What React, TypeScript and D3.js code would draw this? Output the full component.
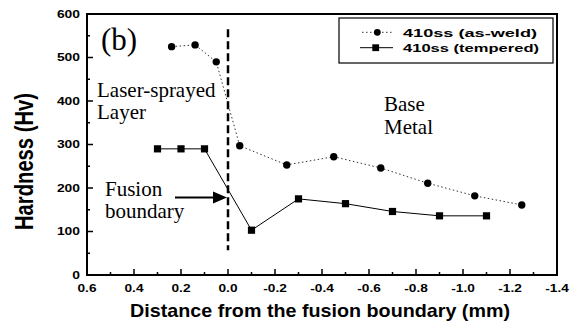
import React from "react";
import * as d3 from "d3";

const asWeldX = [0.24, 0.14, 0.05, -0.05, -0.25, -0.45, -0.65, -0.85, -1.05, -1.25];
const asWeldY = [525, 529, 490, 297, 253, 272, 246, 211, 182, 161];
const temperedX = [0.3, 0.2, 0.1, -0.1, -0.3, -0.5, -0.7, -0.9, -1.1];
const temperedY = [290, 290, 290, 103, 175, 164, 146, 136, 136];
const xTicks = [0.6, 0.4, 0.2, 0.0, -0.2, -0.4, -0.6, -0.8, -1.0, -1.2, -1.4];
const yTicks = [0, 100, 200, 300, 400, 500, 600];
const legendLabels = ["410ss (as-weld)", "410ss (tempered)"];

const W = 570, H = 328;
const L = 87, R = 557, T = 14, B = 275;

export default function App() {
  const x = d3.scaleLinear().domain([0.6, -1.4]).range([L, R]);
  const y = d3.scaleLinear().domain([0, 600]).range([B, T]);
  const line = d3.line<[number, number]>().x(d => x(d[0])).y(d => y(d[1]));
  const aw: [number, number][] = asWeldX.map((v, i) => [v, asWeldY[i]]);
  const tp: [number, number][] = temperedX.map((v, i) => [v, temperedY[i]]);
  const xMinor = d3.range(6, -15, -1).map(v => v / 10);
  const yMinor = d3.range(0, 601, 50);
  const sans = "'Liberation Sans', Arial, sans-serif";
  const serif = "'Liberation Serif', 'Times New Roman', serif";
  return (
    <svg width={W} height={H} style={{ position: "absolute", left: 0, top: 0, background: "#fff" }}>
      <rect x={0} y={0} width={W} height={H} fill="#fff" />
      {xMinor.map((v, i) => (
        <line key={"xm" + i} x1={x(v)} x2={x(v)} y1={B} y2={B - (i % 2 === 0 ? 6 : 3)} stroke="#000" strokeWidth={1.5} />
      ))}
      {yMinor.map((v, i) => (
        <line key={"ym" + i} x1={L} x2={L + (i % 2 === 0 ? 6 : 3)} y1={y(v)} y2={y(v)} stroke="#000" strokeWidth={1.5} />
      ))}
      <rect x={L} y={T} width={R - L} height={B - T} fill="none" stroke="#000" strokeWidth={2} />
      {xTicks.map((v, i) => (
        <g key={"xt" + i} transform={`translate(${x(v)},291.5) scale(1.28,1)`}>
          <text x={0} y={0} textAnchor="middle" fontFamily={sans} fontWeight="bold" fontSize={10.7}>
            {v === 0 ? "0.0" : v.toFixed(1)}
          </text>
        </g>
      ))}
      {yTicks.map((v, i) => (
        <g key={"yt" + i} transform={`translate(80,${y(v) + 3.8}) scale(1.32,1)`}>
          <text x={0} y={0} textAnchor="end" fontFamily={sans} fontWeight="bold" fontSize={10.5}>
            {v}
          </text>
        </g>
      ))}
      <text x={320} y={317} textAnchor="middle" fontFamily={sans} fontWeight="bold" fontSize={19}
        textLength={380} lengthAdjust="spacingAndGlyphs">
        Distance from the fusion boundary (mm)
      </text>
      <g transform={`translate(33,161.5) scale(1.3,1)`}>
        <text transform="rotate(-90)" x={0} y={0} textAnchor="middle" fontFamily={sans} fontWeight="bold" fontSize={20}
          textLength={137} lengthAdjust="spacingAndGlyphs">
          Hardness (Hv)
        </text>
      </g>
      <line x1={x(0)} x2={x(0)} y1={y(565)} y2={y(57)} stroke="#000" strokeWidth={2.5} strokeDasharray="8,4" />
      <path d={line(aw) || ""} fill="none" stroke="#000" strokeWidth={0.8} strokeDasharray="1.5,2.5" />
      <path d={line(tp) || ""} fill="none" stroke="#000" strokeWidth={1} />
      {aw.map((d, i) => (
        <circle key={"c" + i} cx={x(d[0])} cy={y(d[1])} r={3.7} fill="#000" />
      ))}
      {tp.map((d, i) => (
        <rect key={"s" + i} x={x(d[0]) - 3.6} y={y(d[1]) - 3.6} width={7.2} height={7.2} fill="#000" />
      ))}
      <rect x={339} y={18} width={214} height={45} fill="#fff" stroke="#000" strokeWidth={1.2} />
      <line x1={362} x2={393} y1={32.3} y2={32.3} stroke="#000" strokeWidth={0.8} strokeDasharray="1.5,2.5" />
      <circle cx={377.3} cy={32.3} r={3.4} fill="#000" />
      <line x1={360} x2={393} y1={47.7} y2={47.7} stroke="#000" strokeWidth={1} />
      <rect x={372.3} y={44.3} width={6.8} height={6.8} fill="#000" />
      <text x={403} y={36.5} fontFamily={sans} fontWeight="bold" fontSize={11.5} textLength={134} lengthAdjust="spacingAndGlyphs">{legendLabels[0]}</text>
      <text x={403} y={51.7} fontFamily={sans} fontWeight="bold" fontSize={11.5} textLength={136} lengthAdjust="spacingAndGlyphs">{legendLabels[1]}</text>
      <text x={101} y={50} fontFamily={serif} fontSize={31}>(b)</text>
      <text x={97} y={96.5} fontFamily={serif} fontSize={21}>Laser-sprayed</text>
      <text x={97} y={119} fontFamily={serif} fontSize={21}>Layer</text>
      <text x={384} y={111} fontFamily={serif} fontSize={21}>Base</text>
      <text x={384} y={134} fontFamily={serif} fontSize={21}>Metal</text>
      <text x={105} y={196} fontFamily={serif} fontSize={21}>Fusion</text>
      <text x={105} y={218} fontFamily={serif} fontSize={21}>boundary</text>
      <line x1={175} x2={215} y1={197.5} y2={197.5} stroke="#000" strokeWidth={2} />
      <path d="M213,191.5 L227,197.5 L213,203.5 Z" fill="#000" />
    </svg>
  );
}
